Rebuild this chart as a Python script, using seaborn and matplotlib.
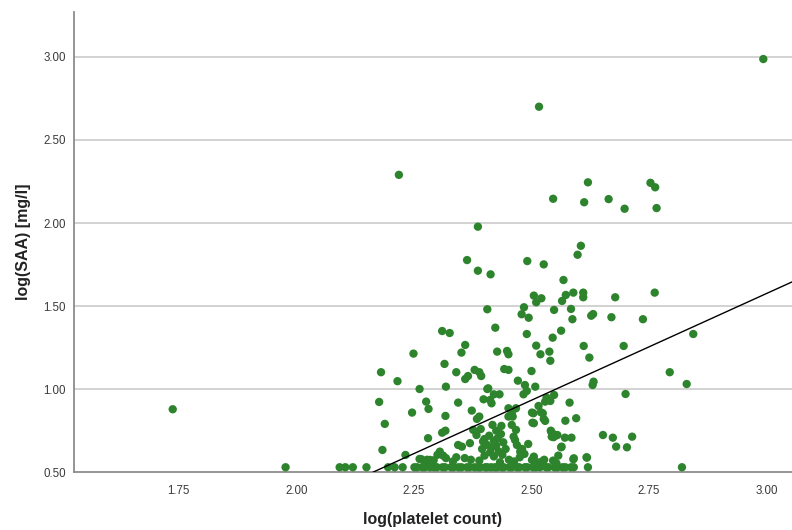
import numpy as np
import pandas as pd
import matplotlib
matplotlib.use("Agg")
import matplotlib.pyplot as plt
import seaborn as sns

# log(platelet count) and log(SAA) for each patient
platelet_log = [
    1.737, 2.993, 2.516, 2.218, 2.620, 2.546, 2.612, 2.664, 2.698, 2.753,
    2.763, 2.766, 2.386, 2.363, 2.491, 2.526, 2.605, 2.598, 2.386, 2.413,
    2.568, 2.589, 2.610, 2.610, 2.573, 2.678, 2.762, 2.565, 2.505, 2.521,
    2.510, 2.406, 2.484, 2.479, 2.494, 2.548, 2.584, 2.587, 2.627, 2.631,
    2.670, 2.737, 2.423, 2.310, 2.326, 2.563, 2.490, 2.545, 2.844, 2.359,
    2.351, 2.249, 2.315, 2.427, 2.448, 2.451, 2.510, 2.538, 2.519, 2.540,
    2.611, 2.623, 2.696, 2.340, 2.359, 2.365, 2.379, 2.389, 2.393, 2.442,
    2.451, 2.500, 2.471, 2.486, 2.490, 2.483, 2.508, 2.532, 2.548, 2.540,
    2.529, 2.632, 2.630, 2.794, 2.830, 2.700, 2.215, 2.180, 2.176, 2.188,
    2.183, 2.262, 2.318, 2.406, 2.420, 2.432, 2.412, 2.398, 2.276, 2.281,
    2.246, 2.344, 2.373, 2.389, 2.384, 2.317, 2.451, 2.458, 2.451, 2.467,
    2.460, 2.458, 2.501, 2.520, 2.526, 2.505, 2.581, 2.572, 2.595, 2.467,
    2.462, 2.469, 2.476, 2.529, 2.542, 2.551, 2.547, 2.571, 2.585, 2.563,
    2.652, 2.673, 2.714, 2.680, 2.703, 2.280, 2.344, 2.352, 2.310, 2.317,
    2.232, 2.590, 2.618, 2.408, 2.415, 2.417, 2.436, 2.376, 2.383, 2.369,
    2.465, 2.515, 2.504, 2.524, 2.502, 2.541, 2.546, 2.555, 2.543, 2.564,
    2.493, 2.505, 2.501, 2.522, 2.553, 2.589, 2.617, 2.305, 2.266, 2.284,
    2.273,
    # dense cluster
    2.400, 2.410, 2.420, 2.428, 2.435, 2.405, 2.415, 2.425, 2.440, 2.395,
    2.412, 2.430, 2.445, 2.400, 2.420, 2.438, 2.392, 2.425, 2.480, 2.397,
    # low row
    2.262, 2.278, 2.292, 2.318, 2.340, 2.358, 2.300, 2.312, 2.475, 2.527,
    2.546, 2.485, 2.371, 2.389, 2.452, 2.557, 2.333, 2.433, 2.463, 2.512,
    # values at the detection floor
    1.977, 2.092, 2.104, 2.120, 2.149, 2.195, 2.209, 2.226, 2.251, 2.257,
    2.268, 2.273, 2.284, 2.293, 2.299, 2.311, 2.316, 2.329, 2.334, 2.345,
    2.351, 2.363, 2.368, 2.379, 2.387, 2.391, 2.402, 2.406, 2.414, 2.422,
    2.427, 2.437, 2.441, 2.453, 2.458, 2.469, 2.474, 2.486, 2.491, 2.503,
    2.509, 2.518, 2.531, 2.536, 2.549, 2.555, 2.566, 2.572, 2.584, 2.590,
    2.620, 2.820,
]
saa_log = [
    0.879, 2.987, 2.700, 2.290, 2.245, 2.146, 2.125, 2.144, 2.086, 2.242,
    2.215, 2.090, 1.978, 1.777, 1.771, 1.751, 1.863, 1.809, 1.713, 1.691,
    1.657, 1.581, 1.581, 1.553, 1.567, 1.553, 1.581, 1.531, 1.563, 1.547,
    1.523, 1.481, 1.493, 1.451, 1.430, 1.477, 1.483, 1.421, 1.442, 1.452,
    1.433, 1.421, 1.370, 1.350, 1.338, 1.352, 1.332, 1.310, 1.332, 1.266,
    1.220, 1.214, 1.152, 1.226, 1.230, 1.210, 1.262, 1.226, 1.210, 1.171,
    1.260, 1.190, 1.260, 1.102, 1.061, 1.079, 1.116, 1.102, 1.079, 1.121,
    1.116, 1.109, 1.051, 1.025, 0.989, 0.969, 1.015, 0.949, 0.965, 0.929,
    0.925, 1.045, 1.025, 1.102, 1.031, 0.971, 1.048, 1.102, 0.923, 0.791,
    0.634, 1.001, 1.015, 1.001, 0.969, 0.969, 0.935, 0.939, 0.925, 0.881,
    0.859, 0.919, 0.871, 0.835, 0.821, 0.839, 0.885, 0.855, 0.835, 0.885,
    0.835, 0.785, 0.859, 0.861, 0.821, 0.795, 0.919, 0.810, 0.825, 0.755,
    0.714, 0.664, 0.624, 0.809, 0.744, 0.720, 0.711, 0.708, 0.708, 0.650,
    0.724, 0.708, 0.714, 0.654, 0.650, 0.705, 0.664, 0.654, 0.738, 0.750,
    0.604, 0.584, 0.588, 1.005, 0.915, 0.785, 0.779, 0.755, 0.724, 0.675,
    0.694, 0.899, 0.855, 0.855, 0.798, 0.750, 0.730, 0.724, 0.714, 0.654,
    0.670, 0.594, 0.574, 0.564, 0.554, 0.578, 0.590, 0.624, 0.578, 0.574,
    0.544,
    # dense cluster
    0.700, 0.720, 0.690, 0.705, 0.730, 0.665, 0.650, 0.660, 0.680, 0.640,
    0.620, 0.625, 0.640, 0.600, 0.595, 0.605, 0.760, 0.750, 0.640, 0.685,
    # low row
    0.580, 0.575, 0.572, 0.585, 0.590, 0.585, 0.605, 0.600, 0.590, 0.575,
    0.570, 0.610, 0.575, 0.570, 0.575, 0.600, 0.565, 0.560, 0.565, 0.560,
    # values at the detection floor
    0.530, 0.530, 0.530, 0.530, 0.530, 0.530, 0.530, 0.530, 0.530, 0.530,
    0.530, 0.530, 0.530, 0.530, 0.530, 0.530, 0.530, 0.530, 0.530, 0.530,
    0.530, 0.530, 0.530, 0.530, 0.530, 0.530, 0.530, 0.530, 0.530, 0.530,
    0.530, 0.530, 0.530, 0.530, 0.530, 0.530, 0.530, 0.530, 0.530, 0.530,
    0.530, 0.530, 0.530, 0.530, 0.530, 0.530, 0.530, 0.530, 0.530, 0.530,
    0.530, 0.530,
]

# linear fit of log(SAA) on log(platelet count)
fit_intercept = -2.279
fit_slope = 1.285

x_ticks = [1.75, 2.00, 2.25, 2.50, 2.75, 3.00]
y_ticks = [0.50, 1.00, 1.50, 2.00, 2.50, 3.00]

df = pd.DataFrame({"platelet": platelet_log, "saa": saa_log})

sns.set_style("white")
plt.rcParams["font.family"] = ["Liberation Sans", "DejaVu Sans"]

fig = plt.figure(figsize=(7.92, 5.30), dpi=100)
ax = fig.add_axes([0.0934, 0.109, 0.9066, 0.868])

ax.set_xlim(1.527, 3.054)
ax.set_ylim(0.5, 3.269)

for yv in y_ticks[1:]:
    ax.axhline(yv, color="#cfcfcf", lw=1.3, zorder=0)

sns.scatterplot(data=df, x="platelet", y="saa", ax=ax, color="#2d842d",
                s=36, linewidth=0, edgecolor="none", zorder=3, clip_on=False)

ax.axline((0, fit_intercept), slope=fit_slope, color="black", lw=1.0, zorder=4)

ax.set_xticks(x_ticks)
ax.set_xticklabels([f"{v:.2f}" for v in x_ticks])
ax.set_yticks(y_ticks)
ax.set_yticklabels([f"{v:.2f}" for v in y_ticks])
ax.tick_params(axis="both", length=0, labelsize=8.3, labelcolor="#3a3a3a")
ax.tick_params(axis="x", pad=9)
ax.tick_params(axis="y", pad=6)

for side in ("top", "right"):
    ax.spines[side].set_visible(False)
ax.spines["left"].set_color("#8c8c8c")
ax.spines["left"].set_linewidth(1.3)
ax.spines["bottom"].set_color("#8c8c8c")
ax.spines["bottom"].set_linewidth(1.3)

ax.set_xlabel("log(platelet count)", fontsize=11.5, fontweight="bold",
              color="#222222", labelpad=11)
ax.set_ylabel("log(SAA) [mg/l]", fontsize=11.5, fontweight="bold",
              color="#222222", labelpad=9)

fig.savefig("out.png", dpi=100)
